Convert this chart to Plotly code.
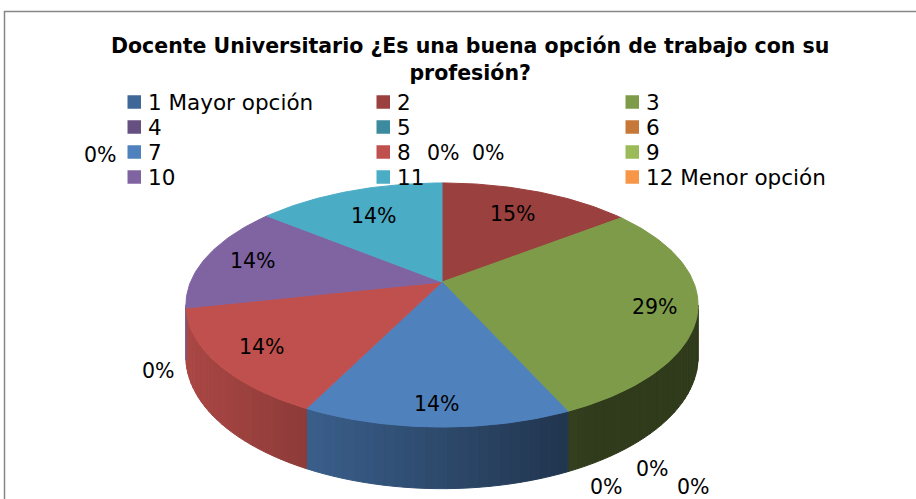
import numpy as np
import plotly.graph_objects as go

# ---------------- data ----------------
categories = ["1 Mayor opción", "2", "3", "4", "5", "6", "7", "8", "9", "10", "11", "12 Menor opción"]
values = [0, 14.6, 28.6, 0, 0, 0, 14.2, 14.2, 0, 14.2, 14.2, 0]
extra_zero_labels = [0]  # one more 0% label shown at the far left in the original
title_text = "Docente Universitario ¿Es una buena opción de trabajo con su<br>profesión?"

# ---------------- styles ----------------
colors = ["#3F6797", "#9A403E", "#7E9B49", "#665082", "#3C8A9E", "#C67838",
          "#4F81BD", "#C0504D", "#9BBB59", "#8064A2", "#4BACC6", "#F79646"]
FONT = "DejaVu Sans"
CX, CY = 442.0, 282.0      # apex of the pie on screen
A, B, K = 117.7, 251.5, 0.1885   # perspective ellipse parameters
D0 = 50.0                  # pie thickness
label_r = {1: 0.72, 2: 0.84, 6: 0.87, 7: 0.82, 9: 0.80, 10: 0.70}
zero_label_pos = {0: (443, 153), 11: (488, 153), 3: (606, 487), 4: (652, 469),
                  5: (693, 487), 8: (158, 371)}
extra_zero_pos = [(100, 155)]
LEG_X0, LEG_DX, LEG_Y0, LEG_DY, SW = 127.5, 249.0, 102.0, 25.0, 13.5


def proj(th, r=1.0, drop=0.0):
    u = r * np.sin(th)
    v = r * np.cos(th)
    den = 1 + K * v
    return CX + B * u / den, CY - A * v / den + drop / den


def shade(hexcol, f):
    h = hexcol.lstrip("#")
    rgb = [int(h[i:i + 2], 16) for i in (0, 2, 4)]
    return "rgb(%d,%d,%d)" % tuple(max(0, min(255, round(c * f))) for c in rgb)


fig = go.Figure()
TH_L = np.arccos(-K)
TH_R = 2 * np.pi - TH_L
total = float(sum(values))
cum = 0.0
spans = []
for i, v in enumerate(values):
    a0 = cum / total * 2 * np.pi
    cum += v
    a1 = cum / total * 2 * np.pi
    spans.append((a0, a1))

side_traces, top_traces = [], []
for i, v in enumerate(values):
    if v <= 0:
        continue
    a0, a1 = spans[i]
    # side strips (front-facing only)
    lo, hi = max(a0, TH_L), min(a1, TH_R)
    if lo < hi:
        n = int(np.ceil((hi - lo) / np.radians(2)))
        edges = np.linspace(lo, hi, n + 1)
        for e0, e1 in zip(edges[:-1], edges[1:]):
            t = np.linspace(e0, e1, 4)
            xt, yt = proj(t)
            xb, yb = proj(t[::-1], drop=D0)
            xs = np.concatenate([xt, xb, xt[:1]])
            ys = np.concatenate([yt, yb, yt[:1]])
            f = float(np.clip(0.88 - (xt.mean() - 190) * 0.00124, 0.38, 0.92))
            c = shade(colors[i], f)
            side_traces.append(go.Scatter(x=xs, y=ys, mode="lines", fill="toself",
                                          fillcolor=c, line=dict(color=c, width=1),
                                          hoverinfo="skip", showlegend=False))
    # top face
    t = np.linspace(a0, a1, max(3, int(np.degrees(a1 - a0)) + 2))
    xt, yt = proj(t)
    xs = np.concatenate([[CX], xt, [CX]])
    ys = np.concatenate([[CY], yt, [CY]])
    top_traces.append(go.Scatter(x=xs, y=ys, mode="lines", fill="toself",
                                 fillcolor=colors[i], line=dict(color=colors[i], width=1),
                                 name=categories[i], hoverinfo="name", showlegend=False))

for tr in side_traces + top_traces:
    fig.add_trace(tr)

annotations = []
LBL_FONT = dict(family=FONT, size=20.5, color="#000000")
# data labels
for i, v in enumerate(values):
    txt = "%d%%" % round(v / total * 100)
    if v > 0:
        a0, a1 = spans[i]
        xm, ym = proj((a0 + a1) / 2, r=label_r.get(i, 0.8))
        annotations.append(dict(x=float(xm), y=float(ym), text=txt, showarrow=False,
                                font=LBL_FONT, xanchor="center", yanchor="middle"))
    elif i in zero_label_pos:
        x, y = zero_label_pos[i]
        annotations.append(dict(x=x, y=y, text=txt, showarrow=False,
                                font=LBL_FONT, xanchor="center", yanchor="middle"))
for v, (x, y) in zip(extra_zero_labels, extra_zero_pos):
    annotations.append(dict(x=x, y=y, text="%d%%" % v, showarrow=False,
                            font=LBL_FONT, xanchor="center", yanchor="middle"))

# legend (3 columns, row-major like the original)
shapes = []
for i, name in enumerate(categories):
    row, col = divmod(i, 3)
    x0 = LEG_X0 + col * LEG_DX
    yc = LEG_Y0 + row * LEG_DY
    shapes.append(dict(type="rect", xref="x", yref="y", x0=x0, x1=x0 + SW,
                       y0=yc - SW / 2, y1=yc + SW / 2, fillcolor=colors[i], line=dict(width=0)))
    annotations.append(dict(x=x0 + SW + 5.0, y=yc, text=name, showarrow=False,
                            font=dict(family=FONT, size=21.5, color="#000000"),
                            xanchor="left", yanchor="middle"))

# title
annotations.append(dict(x=470, y=59.5, text="<b>%s</b>" % title_text, showarrow=False,
                        font=dict(family=FONT, size=20.5, color="#000000"),
                        xanchor="center", yanchor="middle", align="center"))

# outer frame
shapes.append(dict(type="rect", xref="x", yref="y", x0=4.5, y0=11.5, x1=980, y1=560,
                   line=dict(color="#868686", width=1.5), fillcolor="rgba(0,0,0,0)"))

fig.update_layout(
    width=916, height=499,
    margin=dict(l=0, r=0, t=0, b=0),
    paper_bgcolor="#FFFFFF", plot_bgcolor="#FFFFFF",
    xaxis=dict(range=[0, 916], visible=False, fixedrange=True),
    yaxis=dict(range=[499, 0], visible=False, fixedrange=True),
    annotations=annotations, shapes=shapes, showlegend=False,
)

fig.write_html("out.html", config={"displayModeBar": False},
               post_script="document.body.style.margin='0px';document.body.style.overflow='hidden';")
